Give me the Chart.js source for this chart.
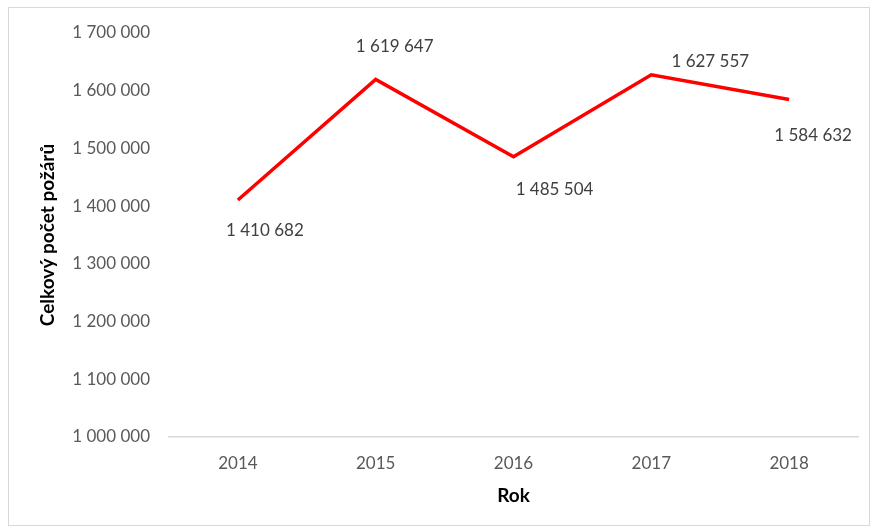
<!DOCTYPE html>
<html>
<head>
<meta charset="utf-8">
<script src="https://cdn.jsdelivr.net/npm/chart.js@4"></script>
<style>
  html, body { margin: 0; padding: 0; background: #fff; }
  #box {
    position: absolute; left: 8px; top: 7px;
    width: 862px; height: 519px;
    border: 1px solid #d9d9d9; box-sizing: border-box;
  }
  #chart { display: block; }
</style>
</head>
<body>
<div id="box"><canvas id="chart" width="860" height="517"></canvas></div>
<script>
var roky = ["2014", "2015", "2016", "2017", "2018"];
var pocetPozaru = [1410682, 1619647, 1485504, 1627557, 1584632];
var osaMin = 1000000;
var osaMax = 1700000;
var osaKrok = 100000;

function formatCislo(v) {
	return String(v).replace(/\B(?=(\d{3})+(?!\d))/g, " ");
}

// popisky hodnot posunute jako v puvodnim grafu
var popiskyPlugin = {
	id: 'popisky',
	afterDatasetsDraw: function(chart) {
		var posuny = [[27, 31], [19, -33], [41, 33], [59, -13], [24, 36]];
		var ctx = chart.ctx;
		var meta = chart.getDatasetMeta(0);
		ctx.save();
		ctx.font = '17px Lato';
		ctx.fillStyle = '#404040';
		ctx.textAlign = 'center';
		ctx.textBaseline = 'middle';
		meta.data.forEach(function(bod, i) {
			var p = posuny[i];
			ctx.fillText(formatCislo(chart.data.datasets[0].data[i]), bod.x + p[0], bod.y + p[1]);
		});
		ctx.restore();
	}
};

var ctx = document.getElementById('chart');

new Chart(ctx, {
	type: 'line',
	data: {
		labels: roky,
		datasets: [{
			label: 'Celkový počet požárů',
			data: pocetPozaru,
			borderColor: '#ff0000',
			borderWidth: 3.5,
			pointRadius: 0,
			tension: 0,
			fill: false
		}]
	},
	options: {
		responsive: false,
		animation: false,
		layout: { padding: { top: 25, right: 11, bottom: 0, left: 0 } },
		plugins: {
			legend: { display: false },
			tooltip: { enabled: false }
		},
		scales: {
			x: {
				offset: true,
				grid: { display: false, drawTicks: false },
				border: { display: true, color: '#d9d9d9', width: 1.5 },
				ticks: { color: '#595959', font: { family: 'Lato', size: 17 }, padding: 16 },
				title: { display: true, text: 'Rok', color: '#000', font: { family: 'Lato', size: 19, weight: 'bold' }, padding: { top: 0, bottom: 18 } },
				afterFit: function(scale) { scale.height = 88; }
			},
			y: {
				min: osaMin,
				max: osaMax,
				grid: { display: false, drawTicks: false },
				border: { display: false },
				ticks: {
					stepSize: osaKrok,
					color: '#595959',
					font: { family: 'Lato', size: 17 },
					padding: 19,
					callback: function(v) { return formatCislo(v); }
				},
				title: { display: true, text: 'Celkový počet požárů', color: '#000', font: { family: 'Lato', size: 19, weight: 'bold' }, padding: { top: 27, bottom: 0 } },
				afterFit: function(scale) {
					scale.width = 160;
					scale.paddingTop = 0;
					scale.paddingBottom = 0;
				}
			}
		}
	},
	plugins: [popiskyPlugin]
});
</script>
</body>
</html>
